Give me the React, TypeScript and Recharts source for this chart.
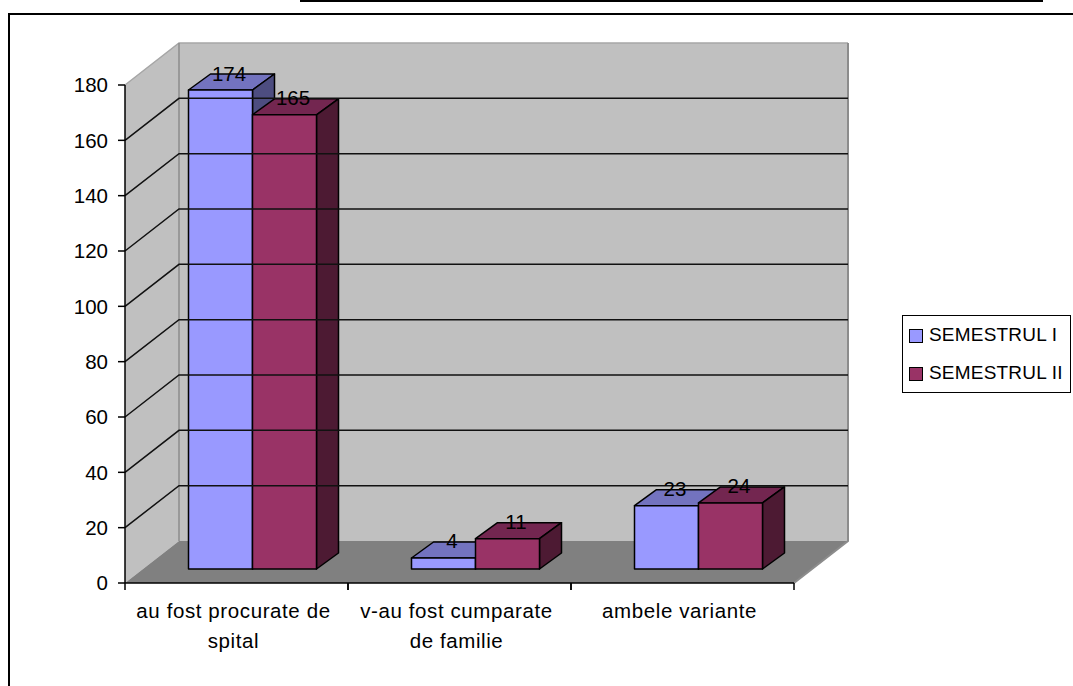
import React from 'react';
import { BarChart, Bar, XAxis, YAxis, ReferenceArea, ReferenceLine, Legend, LabelList } from 'recharts';

const categoryLines = [['au fost procurate de', 'spital'], ['v-au fost cumparate', 'de familie'], ['ambele variante']];
const categories = categoryLines.map((l) => l.join(' '));
const semestrul1 = [174, 4, 23];
const semestrul2 = [165, 11, 24];
const yTicks = [0, 20, 40, 60, 80, 100, 120, 140, 160, 180];
const innerGridValues = [20, 40, 60, 80, 100, 120, 140, 160];

const data = categories.map((name, i) => ({ name, s1: semestrul1[i], s2: semestrul2[i] }));

const FONT = '"Liberation Sans", Arial, sans-serif';
const WALL_DX = 54;
const WALL_DY = -42;
const BAR_DX = 16;
const BAR_LIFT = 14;
const DEPTH_X = 22;
const DEPTH_Y = 16;
const HEIGHT_K = 0.995;

const pts = (p: number[][]) => p.map((q) => q.join(',')).join(' ');

function Walls(props: any) {
  const { x, y, width: w, height: h } = props;
  const b = y + h;
  return (
    <g>
      <polygon points={pts([[x, y], [x + WALL_DX, y + WALL_DY], [x + WALL_DX, b + WALL_DY], [x, b]])} fill="#C0C0C0" />
      <polygon points={pts([[x + WALL_DX, y + WALL_DY], [x + w + WALL_DX, y + WALL_DY], [x + w + WALL_DX, b + WALL_DY], [x + WALL_DX, b + WALL_DY]])} fill="#C0C0C0" />
      <polygon points={pts([[x, b], [x + WALL_DX, b + WALL_DY], [x + w + WALL_DX, b + WALL_DY], [x + w, b]])} fill="#808080" />
      <polyline points={pts([[x, y], [x + WALL_DX, y + WALL_DY], [x + w + WALL_DX, y + WALL_DY]])} fill="none" stroke="#A6A6A6" strokeWidth={1.5} />
      <line x1={x + WALL_DX} y1={y + WALL_DY} x2={x + WALL_DX} y2={b + WALL_DY} stroke="#8C8C8C" strokeWidth={1.5} />
      <polyline points={pts([[x + w + WALL_DX, y + WALL_DY], [x + w + WALL_DX, b + WALL_DY], [x + w, b]])} fill="none" stroke="#8C8C8C" strokeWidth={2} />
    </g>
  );
}

function GridShape(props: any) {
  const { x1, y1, x2 } = props;
  return (
    <g fill="none" stroke="#111" strokeWidth={1.5}>
      <polyline points={pts([[x1, y1], [x1 + WALL_DX, y1 + WALL_DY], [x2 + WALL_DX, y1 + WALL_DY]])} />
    </g>
  );
}

function makeBox(front: string, top: string, side: string) {
  return function Box(props: any) {
    const { x, y, width: w, height: h } = props;
    const bx = x + BAR_DX;
    const by = y + h - BAR_LIFT;
    const ty = by - h * HEIGHT_K;
    const common = { stroke: '#000', strokeWidth: 1.5, strokeLinejoin: 'round' as const };
    return (
      <g>
        <polygon points={pts([[bx, ty], [bx + DEPTH_X, ty - DEPTH_Y], [bx + w + DEPTH_X, ty - DEPTH_Y], [bx + w, ty]])} fill={top} {...common} />
        <polygon points={pts([[bx + w, ty], [bx + w + DEPTH_X, ty - DEPTH_Y], [bx + w + DEPTH_X, by - DEPTH_Y], [bx + w, by]])} fill={side} {...common} />
        <rect x={bx} y={ty} width={w} height={by - ty} fill={front} {...common} />
      </g>
    );
  };
}

const Box1 = makeBox('#9999FF', '#7373BF', '#4D4D80');
const Box2 = makeBox('#993366', '#732650', '#4D1A33');

function ValueLabel(props: any) {
  const { x, y, width: w, height: h, value } = props;
  const by = y + h - BAR_LIFT;
  const ty = by - h * HEIGHT_K;
  return (
    <text x={x + w / 2 + BAR_DX + 8.5} y={ty - 17} textAnchor="middle" dominantBaseline="central" fontFamily={FONT} fontSize={20.5} fill="#000">
      {value}
    </text>
  );
}

function CategoryTick(props: any) {
  const { x, y, payload, width, visibleTicksCount, index } = props;
  const step = width / visibleTicksCount;
  const lines = categoryLines[index] || [payload.value];
  return (
    <g>
      <line x1={x - step / 2} y1={y} x2={x - step / 2} y2={y + 7} stroke="#000" strokeWidth={1.5} />
      <line x1={x + step / 2} y1={y} x2={x + step / 2} y2={y + 7} stroke="#000" strokeWidth={1.5} />
      <text textAnchor="middle" fontFamily={FONT} fontSize={20.5} letterSpacing={0.6} fill="#000">
        {lines.map((t: string, i: number) => (
          <tspan key={t} x={x - 3} y={y + 35 + i * 30}>{t}</tspan>
        ))}
      </text>
    </g>
  );
}

function LegendBox(props: any) {
  const items = props.payload || [];
  return (
    <div style={{ boxSizing: 'border-box', width: 169, height: 78, border: '1.5px solid #000', background: '#fff', fontFamily: FONT, fontSize: 19, letterSpacing: 0.2, color: '#000', position: 'relative' }}>
      {items.map((it: any, i: number) => (
        <div key={it.value} style={{ position: 'absolute', left: 6, top: 13 + i * 38, display: 'flex', alignItems: 'center', height: 14, whiteSpace: 'nowrap' }}>
          <span style={{ boxSizing: 'border-box', display: 'inline-block', width: 14, height: 14, background: it.color, border: '1.5px solid #000', marginRight: 6 }} />
          <span style={{ position: 'relative', top: -1 }}>{it.value}</span>
        </div>
      ))}
    </div>
  );
}

export default function App() {
  return (
    <div style={{ position: 'absolute', left: 0, top: 0, width: 1073, height: 686, overflow: 'hidden', background: '#fff' }}>
      <div style={{ position: 'absolute', left: 300, top: 0, width: 743, height: 2, background: '#000' }} />
      <div style={{ position: 'absolute', left: 8, top: 13, width: 1065, height: 2, background: '#000' }} />
      <div style={{ position: 'absolute', left: 8, top: 13, width: 2, height: 673, background: '#000' }} />
      <div style={{ position: 'absolute', left: 0, top: 0 }}>
        <BarChart width={1073} height={686} data={data} margin={{ top: 85, right: 279, bottom: 0, left: 0 }} barGap={0} barCategoryGap={47.5}>
          <ReferenceArea y1={0} y2={180} shape={Walls} fillOpacity={1} />
          {innerGridValues.map((v) => (
            <ReferenceLine key={v} y={v} shape={GridShape} />
          ))}
          <XAxis dataKey="name" tickLine={false} tickSize={0} tickMargin={0} axisLine={{ stroke: '#000', strokeWidth: 1.5 }} interval={0} height={103} tick={CategoryTick} />
          <YAxis domain={[0, 180]} ticks={yTicks} interval={0} width={125} tickSize={7} tickMargin={10}
            axisLine={{ stroke: '#000', strokeWidth: 1.5 }} tickLine={{ stroke: '#000', strokeWidth: 1.5 }}
            tick={{ fontFamily: FONT, fontSize: 20.5, fill: '#000' }} />
          <Bar dataKey="s1" name="SEMESTRUL I" fill="#9999FF" shape={Box1} isAnimationActive={false}>
            <LabelList dataKey="s1" content={ValueLabel} />
          </Bar>
          <Bar dataKey="s2" name="SEMESTRUL II" fill="#993366" shape={Box2} isAnimationActive={false}>
            <LabelList dataKey="s2" content={ValueLabel} />
          </Bar>
          <Legend layout="horizontal" verticalAlign="middle" align="center" content={LegendBox}
            wrapperStyle={{ position: 'absolute', left: 902, top: 315, width: 169, height: 78, margin: 0, padding: 0 }} />
        </BarChart>
      </div>
    </div>
  );
}
